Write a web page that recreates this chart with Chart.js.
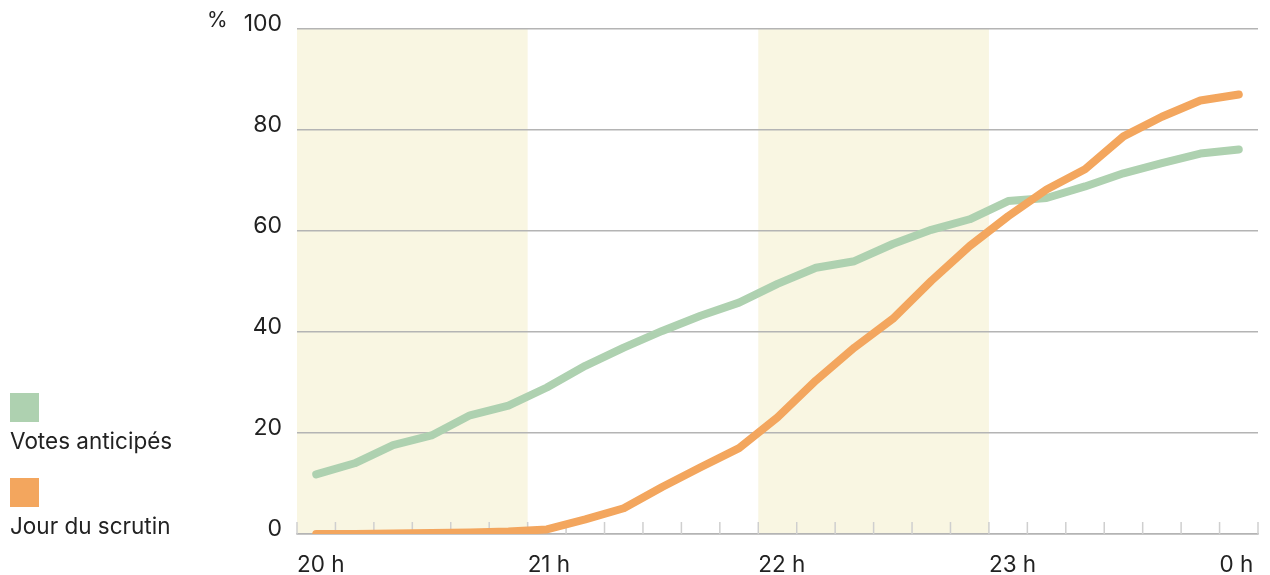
<!DOCTYPE html>
<html lang="fr">
<head>
<meta charset="utf-8">
<script src="https://cdn.jsdelivr.net/npm/chart.js@4"></script>
<style>
  body { margin: 0; background: #fff; font-family: Inter, sans-serif; color: #222; }
  #wrap { position: relative; width: 1270px; height: 575px; }
  #graphique { position: absolute; left: 0; top: 0; }
  .unite { position: absolute; left: 207px; top: 7px; font-size: 21px; }
  .legende { position: absolute; left: 10px; font-size: 22.5px; line-height: 26px; }
  .legende .carre { width: 29px; height: 29px; margin-bottom: 6px; }
</style>
</head>
<body>
<div id="wrap">
  <canvas id="graphique" width="1270" height="575"></canvas>
  <div class="unite">%</div>
  <div class="legende" style="top:393px"><div class="carre" style="background:#aed1b0"></div>Votes anticipés</div>
  <div class="legende" style="top:478px"><div class="carre" style="background:#f3a65e"></div>Jour du scrutin</div>
</div>
<script>
// minutes après 20 h
const minutes = [5, 15, 25, 35, 45, 55, 65, 75, 85, 95, 105, 115, 125, 135, 145, 155, 165, 175, 185, 195, 205, 215, 225, 235, 245];
const votesAnticipes = [11.8, 14.0, 17.6, 19.5, 23.5, 25.4, 29.0, 33.3, 36.9, 40.2, 43.2, 45.8, 49.5, 52.7, 54.0, 57.4, 60.2, 62.3, 65.9, 66.5, 68.8, 71.4, 73.4, 75.3, 76.1];
const jourScrutin = [0, 0, 0.1, 0.2, 0.3, 0.5, 0.9, 2.9, 5.1, 9.3, 13.2, 17.0, 23.1, 30.4, 36.9, 42.6, 50.1, 57.0, 62.9, 68.2, 72.2, 78.7, 82.6, 85.8, 87.0];
const heures = ['20 h', '21 h', '22 h', '23 h', '0 h'];
const bandes = [[0, 60], [120, 180]];

const gris = '#b4b4b4';

// bandes jaunes derrière la grille
const fondBandes = {
  id: 'fondBandes',
  beforeDraw(chart) {
    const { ctx, chartArea, scales } = chart;
    ctx.save();
    ctx.fillStyle = '#f9f6e2';
    bandes.forEach(([a, b]) => {
      const x1 = scales.x.getPixelForValue(a);
      const x2 = scales.x.getPixelForValue(b);
      ctx.fillRect(x1, chartArea.top, x2 - x1, chartArea.bottom - chartArea.top);
    });
    ctx.restore();
  }
};

// petites graduations vers l'intérieur
const graduations = {
  id: 'graduations',
  beforeDatasetsDraw(chart) {
    const { ctx, chartArea, scales } = chart;
    ctx.save();
    ctx.strokeStyle = '#cfcfcf';
    ctx.lineWidth = 1.5;
    scales.x.ticks.forEach(t => {
      const x = scales.x.getPixelForValue(t.value);
      ctx.beginPath();
      ctx.moveTo(x, chartArea.bottom);
      ctx.lineTo(x, chartArea.bottom - 12);
      ctx.stroke();
    });
    ctx.restore();
  }
};

const toPoints = vals => vals.map((v, i) => ({ x: minutes[i], y: v }));

new Chart(document.getElementById('graphique'), {
  type: 'line',
  data: {
    datasets: [{
      label: 'Votes anticipés',
      data: toPoints(votesAnticipes),
      borderColor: '#aed1b0',
      order: 1
    }, {
      label: 'Jour du scrutin',
      data: toPoints(jourScrutin),
      borderColor: '#f3a65e',
      order: 0
    }]
  },
  options: {
    responsive: false,
    animation: false,
    layout: { padding: { top: 25, right: 12 } },
    elements: {
      line: { borderWidth: 8, borderCapStyle: 'round', borderJoinStyle: 'round', tension: 0 },
      point: { radius: 0 }
    },
    scales: {
      x: {
        type: 'linear',
        min: 0,
        max: 250,
        afterFit: s => { s.height = 41; },
        grid: { display: false },
        border: { color: gris, width: 1.5 },
        ticks: {
          stepSize: 10,
          autoSkip: false,
          maxRotation: 0,
          align: 'start',
          padding: 10,
          color: '#222',
          font: { family: 'Inter', size: 22.5 },
          callback: v => (v % 60 === 0 ? heures[v / 60] : '')
        }
      },
      y: {
        min: 0,
        max: 100,
        afterFit: s => { s.width = 297; },
        grid: { color: gris, lineWidth: 1.5, drawTicks: false },
        border: { display: false },
        ticks: {
          stepSize: 20,
          padding: 15,
          labelOffset: -5,
          color: '#222',
          font: { family: 'Inter', size: 23 }
        }
      }
    },
    plugins: {
      legend: { display: false },
      tooltip: { enabled: false }
    }
  },
  plugins: [fondBandes, graduations]
});
</script>
</body>
</html>
